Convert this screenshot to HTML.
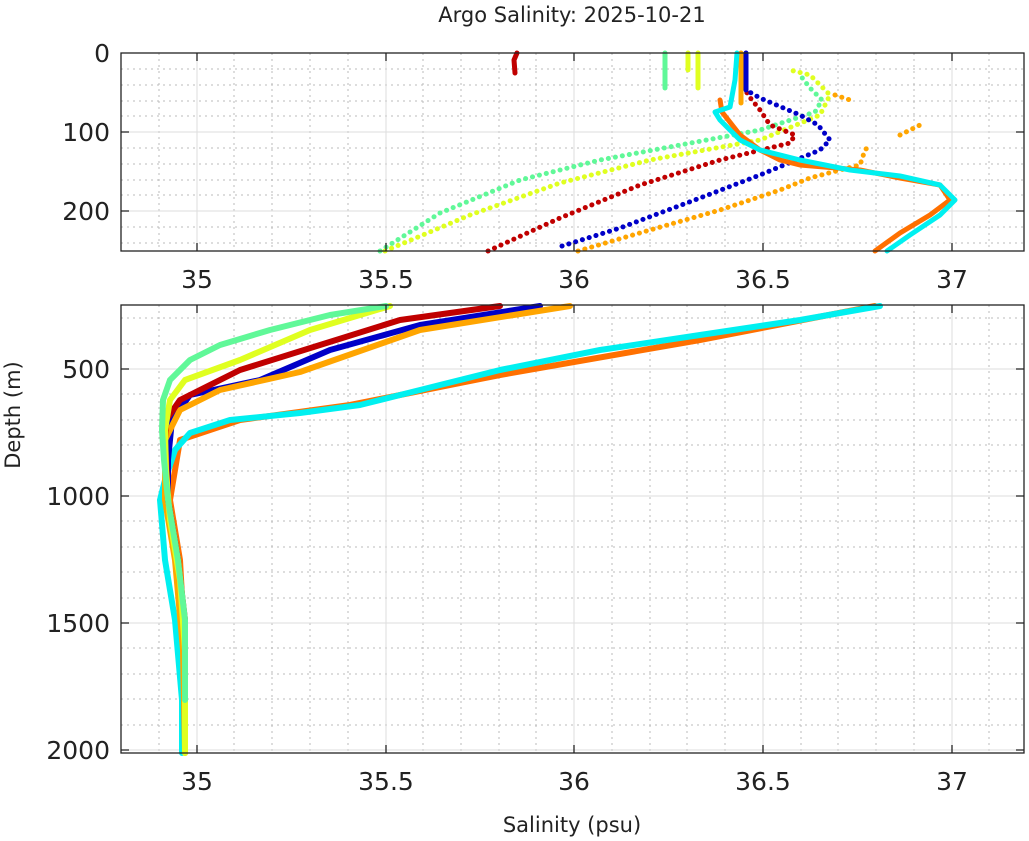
<!DOCTYPE html>
<html><head><meta charset="utf-8"><style>body{margin:0;background:#fff}svg{display:block}</style></head><body>
<svg width="1029" height="841" xmlns="http://www.w3.org/2000/svg" font-family="DejaVu Sans, Liberation Sans, sans-serif">
<rect width="1029" height="841" fill="#fff"/>
<g stroke="#bbb" stroke-width="1" stroke-dasharray="2,4">
<path d="M159 53V251M234 53V251M272 53V251M310 53V251M348 53V251M423 53V251M461 53V251M499 53V251M536 53V251M612 53V251M650 53V251M687 53V251M725 53V251M801 53V251M838 53V251M876 53V251M914 53V251M989 53V251"/>
<path d="M159 305V753M234 305V753M272 305V753M310 305V753M348 305V753M423 305V753M461 305V753M499 305V753M536 305V753M612 305V753M650 305V753M687 305V753M725 305V753M801 305V753M838 305V753M876 305V753M914 305V753M989 305V753"/>
<path d="M121 69H1024M121 85H1024M121 101H1024M121 116H1024M121 148H1024M121 164H1024M121 180H1024M121 195H1024M121 227H1024M121 243H1024"/>
<path d="M121 318H1024M121 344H1024M121 394H1024M121 420H1024M121 445H1024M121 471H1024M121 521H1024M121 547H1024M121 572H1024M121 598H1024M121 648H1024M121 674H1024M121 699H1024M121 725H1024"/>
</g>
<g stroke="#ddd" stroke-width="1">
<path d="M197 53V251M386 53V251M574 53V251M763 53V251M952 53V251M121 132H1024M121 211H1024"/>
<path d="M197 305V753M386 305V753M574 305V753M763 305V753M952 305V753M121 369H1024M121 496H1024M121 623H1024M121 750H1024"/>
</g>
<g fill="none" stroke-linejoin="round" stroke-linecap="round">
<g stroke-width="5" stroke-dasharray="0.1 7">
<path stroke="#60f898" d="M380 251L440 213L520 180L600 160L680 145L760 130L815 112L822 100L810 88L800 75"/>
<path stroke="#e0ff20" d="M385 251L470 215L560 183L650 160L760 140L820 115L830 95L810 75L790 70"/>
<path stroke="#c00000" d="M488 251L560 218L640 185L720 160L790 143L795 135L770 125L760 110L748 95L742 82"/>
<path stroke="#0000c8" d="M562 246L620 228L700 198L760 175L820 150L830 140L818 125L800 115L760 98L746 90"/>
<path stroke="#ffa500" d="M578 251L650 230L720 210L780 190L810 178L840 170L860 165L865 150L870 145"/>
<path stroke="#ffa500" d="M900 135L920 125M835 95L850 100"/>
</g>
<g stroke-width="5">
<path stroke="#60f898" d="M665 53V88"/>
<path stroke="#e0ff20" d="M688 53V70M698 53V88"/>
<path stroke="#c00000" d="M517 53L514 60L515 73"/>
<path stroke="#0000c8" d="M746 90L746 53"/>
<path stroke="#ffa500" d="M741 53V103"/>
<path stroke="#ff7000" d="M875 251L900 233L930 215L950 200L940 185L900 178L860 170L800 165L780 160L760 150L740 135L722 112L720 100"/>
<path stroke="#00f0f0" d="M887 251L910 235L940 215L955 200L940 185L900 176L850 170L800 160L760 150L740 140L720 120L715 112L730 107L735 80L737 53"/>
</g>
<g stroke-width="6">
<path stroke="#ff7000" d="M875 306L700 340L500 375L350 405L240 420L180 440L175 470L170 500L180 560L185 650L185 753"/>
<path stroke="#00f0f0" d="M880 306L800 320L700 335L600 350L500 370L420 390L360 405L300 413L230 420L190 433L175 450L165 480L160 500L165 560L175 620L182 700L182 753"/>
<path stroke="#0000c8" d="M540 306L420 325L330 350L260 380L190 395L172 420L168 460L168 500L178 560L185 650"/>
<path stroke="#ffa500" d="M570 306L420 330L300 372L220 390L180 410L165 440L165 500L175 560L183 650L185 753"/>
<path stroke="#c00000" d="M500 306L400 320L320 345L240 370L180 400L166 420L165 440L168 500L178 560L185 620"/>
<path stroke="#e0ff20" d="M390 306L310 330L240 360L185 380L170 400L165 430L166 470L170 520L180 580L185 650L185 753"/>
<path stroke="#60f898" d="M386 306L330 315L270 330L220 345L190 360L170 380L163 400L162 430L164 460L168 500L178 560L185 620L185 700"/>
</g>
</g>
<g fill="none" stroke="#222" stroke-width="1.3">
<rect x="121" y="53" width="903" height="198"/>
<rect x="121" y="305" width="903" height="448"/>
<path d="M197 53v8M386 53v8M574 53v8M763 53v8M952 53v8M197 251v-8M386 251v-8M574 251v-8M763 251v-8M952 251v-8M121 132h8M121 211h8M1024 132h-8M1024 211h-8"/>
<path d="M197 305v8M386 305v8M574 305v8M763 305v8M952 305v8M197 753v-8M386 753v-8M574 753v-8M763 753v-8M952 753v-8M121 369h8M121 496h8M121 623h8M121 750h8M1024 369h-8M1024 496h-8M1024 623h-8M1024 750h-8"/>
</g>
<g fill="#222" font-size="25" text-anchor="middle">
<text x="197" y="288">35</text><text x="386" y="288">35.5</text><text x="574" y="288">36</text><text x="763" y="288">36.5</text><text x="952" y="288">37</text>
<text x="197" y="790">35</text><text x="386" y="790">35.5</text><text x="574" y="790">36</text><text x="763" y="790">36.5</text><text x="952" y="790">37</text>
</g>
<g fill="#222" font-size="25" text-anchor="end">
<text x="110" y="62">0</text><text x="110" y="141">100</text><text x="110" y="220">200</text>
<text x="110" y="378">500</text><text x="110" y="505">1000</text><text x="110" y="632">1500</text><text x="110" y="759">2000</text>
</g>
<text x="572" y="22" font-size="21" fill="#222" text-anchor="middle">Argo Salinity: 2025-10-21</text>
<text x="572" y="832" font-size="21" fill="#222" text-anchor="middle">Salinity (psu)</text>
<text transform="translate(20,415) rotate(-90)" font-size="21" fill="#222" text-anchor="middle">Depth (m)</text>
</svg>
</body></html>
